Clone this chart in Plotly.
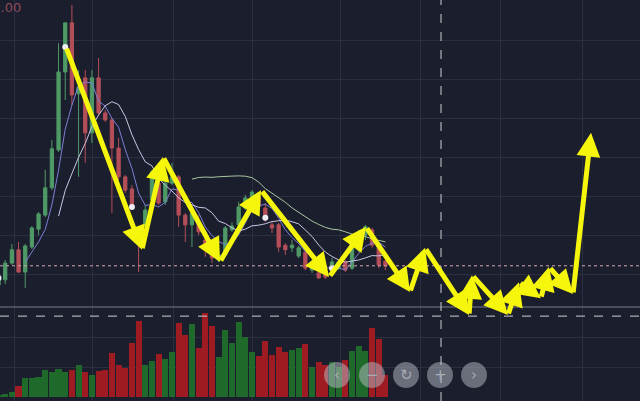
import plotly.graph_objects as go
import pandas as pd

# ---------------- data ----------------
idx = list(range(-1, 58))

open_ = [2.72, 2.85, 3.28, 3.62, 3.05, 3.69, 4.15, 4.51, 5.21, 6.18,
         8.18, 9.44, 7.62, 8.03, 6.62, 8.03, 7.13, 6.95, 6.23, 5.49,
         5.18, 4.13, 4.23, 4.90, 5.33, 4.85, 5.33, 5.49, 4.51, 4.26,
         4.33, 3.87, 3.69, 3.36, 3.49, 4.13, 4.26, 4.69, 4.90, 4.97,
         4.69, 4.26, 4.26, 3.74, 3.67, 3.46, 3.56, 3.10, 3.03, 3.05,
         3.15, 3.15, 3.31, 3.15, 3.62, 4.00, 4.13, 3.74, 3.33]
close = [2.85, 3.28, 3.62, 3.05, 3.72, 4.18, 4.54, 5.21, 6.21, 8.18,
         9.44, 7.59, 7.79, 6.62, 8.03, 7.13, 6.95, 6.23, 5.49, 5.15,
         4.72, 3.79, 4.64, 5.62, 4.82, 5.33, 5.49, 4.51, 4.26, 4.56,
         4.08, 3.62, 3.41, 3.49, 4.18, 4.23, 4.72, 4.95, 5.10, 4.74,
         4.44, 4.18, 3.69, 3.62, 3.74, 3.67, 3.15, 3.31, 2.90, 2.92,
         3.31, 3.31, 3.10, 3.87, 4.05, 4.21, 3.74, 3.23, 3.21]
high = [2.90, 3.36, 3.77, 3.82, 3.77, 4.23, 4.59, 5.67, 6.44, 8.92,
        9.44, 9.90, 8.23, 8.23, 8.23, 8.54, 7.21, 7.00, 6.49, 5.54,
        5.28, 4.18, 4.77, 5.67, 5.46, 5.41, 5.85, 5.54, 4.56, 4.69,
        4.51, 3.95, 3.74, 3.62, 4.23, 4.33, 4.85, 5.03, 5.15, 5.10,
        4.82, 4.33, 4.31, 3.79, 3.87, 3.72, 3.62, 3.36, 3.10, 3.10,
        3.41, 3.36, 3.36, 3.92, 4.13, 4.26, 4.18, 3.79, 3.36]
low = [2.64, 2.74, 3.23, 3.03, 2.64, 3.64, 4.00, 4.46, 5.15, 6.13,
       7.46, 7.33, 5.49, 5.85, 6.36, 7.08, 6.90, 4.56, 5.41, 5.08,
       4.64, 3.05, 4.18, 4.77, 4.77, 4.77, 5.28, 4.21, 3.82, 3.69,
       4.00, 3.44, 3.28, 3.31, 3.44, 4.08, 4.18, 4.64, 4.77, 4.64,
       4.33, 4.05, 3.56, 3.49, 3.56, 3.41, 3.10, 3.03, 2.87, 2.87,
       3.10, 3.10, 3.05, 3.10, 3.56, 3.87, 3.67, 3.15, 3.10]
volume = [2, 3, 5, 11, 19, 19, 20, 27, 25, 28,
          25, 27, 32, 25, 22, 26, 27, 44, 32, 29,
          54, 76, 32, 36, 43, 38, 45, 74, 62, 73,
          49, 84, 71, 40, 67, 54, 75, 60, 45, 41,
          56, 42, 50, 45, 47, 49, 53, 30, 35, 32,
          35, 30, 37, 46, 51, 46, 69, 58, 22]

ma_windows = [5, 10, 30]
ma_colors = ["#7d7fd6", "#cbc5e6", "#a8c6a0"]

# signal dots
dot_idx = [-1, 9, 19, 39, 49]
dot_price = [2.90, 8.82, 4.72, 4.44, 3.15]

# hand-drawn zigzag arrows (waypoints in candle index / price)
arrow_idx = [9.12, 20.51, 23.66, 32.2, 38.35, 48.55, 54.09, 60.69, 62.94,
             69.54, 69.99, 75.38, 77.03, 80.32, 81.52, 85.13, 87.83]
arrow_price = [8.82, 3.62, 6.00, 3.31, 5.15, 2.92, 4.21, 2.54, 3.67,
               1.95, 2.97, 1.95, 2.79, 2.38, 3.18, 2.49, 6.62]

price_ticks = [10, 9, 8, 7, 6, 5, 4, 3]
volume_ticks = [30, 60]
grid_idx = [1.32, 13.16, 25.16, 37.15, 50.34, 62.19, 74.33, 86.48]
crosshair_idx = 65.34
crosshair_price = 1.92
top_label = "10.00"
nav_symbols = ["‹", "−", "↻", "+", "›"]

# ---------------- styling / layout constants ----------------
W, H = 640, 401
BG = "#1b1e2d"
GRID = "#2a2f41"
UP = "#4f9a67"
DOWN = "#b44f59"
VUP = "#1f6a2b"
VDOWN = "#9e1b22"
YELLOW = "#f6f60c"

fig = go.Figure()

fig.add_trace(go.Candlestick(
    x=idx, open=open_, high=high, low=low, close=close,
    increasing=dict(line=dict(color=UP, width=1), fillcolor=UP),
    decreasing=dict(line=dict(color=DOWN, width=1), fillcolor=DOWN),
    whiskerwidth=0, showlegend=False, hoverinfo="skip",
))

cs = pd.Series(close)
for n, col in zip(ma_windows, ma_colors):
    fig.add_trace(go.Scatter(x=idx, y=cs.rolling(n).mean(), mode="lines",
                             line=dict(color=col, width=1), showlegend=False,
                             hoverinfo="skip"))

fig.add_trace(go.Scatter(x=dot_idx, y=dot_price, mode="markers",
                         marker=dict(color="#eeeef4", size=6),
                         showlegend=False, hoverinfo="skip"))

vcolors = [VUP if c >= o else VDOWN for o, c in zip(open_, close)]
fig.add_trace(go.Bar(x=idx, y=volume, marker=dict(color=vcolors, line=dict(width=0)),
                     width=0.92, yaxis="y2", showlegend=False, hoverinfo="skip"))

# price axis covers full figure height: 39 px per unit
y_top = 391 / 39
y_bot = (391 - H) / 39

shapes = []
# pane separator
shapes.append(dict(type="line", xref="paper", yref="paper", x0=0, x1=1,
                   y0=(H - 307) / H, y1=(H - 307) / H,
                   line=dict(color="#7a7f8c", width=1)))
# last price dotted line
shapes.append(dict(type="line", xref="paper", yref="y", x0=0, x1=1,
                   y0=close[-1], y1=close[-1],
                   line=dict(color="#d7a6b6", width=1, dash="dot")))
# crosshair
shapes.append(dict(type="line", xref="paper", yref="y", x0=0, x1=1,
                   y0=crosshair_price, y1=crosshair_price,
                   line=dict(color="#cfd0d6", width=1, dash="dash")))
shapes.append(dict(type="line", xref="x", yref="paper", x0=crosshair_idx, x1=crosshair_idx,
                   y0=0, y1=1, line=dict(color="#cfd0d6", width=1, dash="dash")))

# nav buttons
btn_px = [337, 372, 406, 440, 474]
btn_py = 375
r = 13
annotations = []
for bx, sym in zip(btn_px, nav_symbols):
    shapes.append(dict(type="circle", xref="paper", yref="paper",
                       x0=(bx - r) / W, x1=(bx + r) / W,
                       y0=(H - btn_py - r) / H, y1=(H - btn_py + r) / H,
                       fillcolor="rgba(185,190,200,0.5)", line=dict(width=0),
                       layer="above"))
    annotations.append(dict(xref="paper", yref="paper", x=bx / W, y=(H - btn_py) / H,
                            text=sym, showarrow=False,
                            font=dict(size=15, color="#a7abb4", family="DejaVu Sans"),
                            xanchor="center", yanchor="middle"))

# arrows
for k in range(len(arrow_idx) - 1):
    annotations.append(dict(
        x=arrow_idx[k + 1], y=arrow_price[k + 1], xref="x", yref="y",
        ax=arrow_idx[k], ay=arrow_price[k], axref="x", ayref="y",
        text="", showarrow=True, arrowhead=2, arrowsize=0.95, arrowwidth=5,
        arrowcolor=YELLOW, standoff=0, startstandoff=0))

annotations.append(dict(xref="paper", yref="paper", x=23 / W, y=(H - 8) / H,
                        text=top_label, showarrow=False, xanchor="right", yanchor="middle",
                        font=dict(size=13, color="#8c4b5d", family="DejaVu Sans")))

fig.update_layout(
    width=W, height=H, margin=dict(l=0, r=0, t=0, b=0),
    paper_bgcolor=BG, plot_bgcolor=BG,
    showlegend=False, bargap=0,
    xaxis=dict(range=[-0.78, (W - 5.2) / 6.67], tickvals=grid_idx, showticklabels=False,
               gridcolor=GRID, gridwidth=1, zeroline=False, showline=False,
               rangeslider=dict(visible=False), fixedrange=True),
    yaxis=dict(domain=[0, 1], range=[y_bot, y_top], tickvals=price_ticks,
               showticklabels=False, gridcolor=GRID, zeroline=False, showline=False),
    yaxis2=dict(domain=[(H - 397) / H, (H - 309) / H], range=[0, 88], anchor="x",
                tickvals=volume_ticks, showticklabels=False, gridcolor=GRID,
                zeroline=False, showline=False),
    shapes=shapes, annotations=annotations,
)

fig.write_html("out.html", config={"displayModeBar": False},
               post_script="document.body.style.margin='0';document.body.style.background='#1b1e2d';")
